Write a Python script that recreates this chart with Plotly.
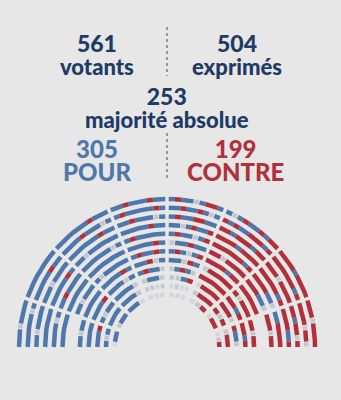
import math
import plotly.graph_objects as go

# ---------------- data ----------------
VOTANTS = 561
EXPRIMES = 504
MAJORITE = 253
POUR = 305
CONTRE = 199
LABEL_VOTANTS = "votants"
LABEL_EXPRIMES = "exprimés"
LABEL_MAJORITE = "majorité absolue"
LABEL_POUR = "POUR"
LABEL_CONTRE = "CONTRE"

# vote of every seat, row by row (outer row first), each row split in the
# 8 blocks of the hemicycle from left to right.
# P = pour, C = contre, A = abstention, N = non-votant
VOTE_ROWS = [
    ["PPPAPPPP", "PPPPPPPPP", "PPPPPPPCPPP", "PPCPPPCPP", "PCPPAPCCP", "PAPCPPCPCC", "CCCCPCCCC", "CCCACCCC"],
    ["PPPPPPAP", "PPPPPCPP", "PPPPCPPPAP", "PCPPPPPCP", "PPCPPCPAP", "CPCPPCCCPC", "CCCCCCPC", "CCCCACCA"],
    ["PPAPPPP", "PPPAPPPP", "PPPPPPCPP", "PPCPPPAP", "PCPPCCPP", "CCPCCCPCC", "CCCACCCC", "CCPCCAC"],
    ["PPPPPPP", "PPPPPCP", "PPAPPPPPP", "PPPPPCPP", "PPAPCPPC", "CCCCPCCCC", "CCCCCPC", "CCCCPPC"],
    ["PPPPAP", "PPCPPPP", "PPPPPPAP", "PCPPPPP", "PCPPAPC", "CCCCCCPC", "CCCCPPA", "PPCCCC"],
    ["PPPPPP", "PPPPPP", "PPPPPPP", "PPPPCP", "APPCPP", "CCACCCC", "CCCPPA", "CCCACC"],
    ["", "PPAPPP", "PAPPPPP", "PCPPCP", "PCPAPC", "CCCCPCC", "CCCCCC", ""],
    ["PPAPP", "PPPPP", "PPPPCP", "PPCAP", "PPACP", "ACCCCC", "CACCC", "CCACC"],
    ["PPPP", "PPPC", "PPPAP", "PCPPA", "APCPA", "CCCCC", "CCPC", "CCPC"],
    ["PPPC", "PAPP", "PPPPA", "APPA", "AAPC", "NCCCC", "CCCA", "CPPA"],
    ["PAP", "PPP", "PPPA", "AANA", "NANN", "ACCC", "CAC", "ACC"],
    ["NPP", "APP", "PPN", "NNN", "NNN", "NAC", "NCC", "NAC"],
]

# ---------------- style / layout ----------------
W, H = 341, 400
BG = "#e7e7e7"
NAVY = "#1f3a64"
BLUE = "#4e77ab"
RED = "#b1313a"
COLORS = {"P": BLUE, "C": RED, "A": "#c3c7cd", "N": "#d3d5d8"}
FONT = "Lato"

cx, cy = 167, 347
R_OUT, ROW_STEP, N_ROWS = 148, 8.7, 12
AISLES = [0, 19, 41, 67, 90, 113, 139, 161, 180]
AISLE_GAP = 3.5
GRAY_GAP = 1.6
LW = 4.5
PITCH = 5.9155

# seats per block, from the geometry
cells = {}
for k in range(N_ROWS):
    r = R_OUT - ROW_STEP * k
    for s in range(8):
        t0 = math.radians(AISLES[s])
        t1 = math.radians(AISLES[s + 1])
        if s > 0:
            t0 += AISLE_GAP / 2 / r
        if s < 7:
            t1 -= AISLE_GAP / 2 / r
        n = 0 if (s in (0, 7) and k == 6) else round((t1 - t0) * r / PITCH)
        cells[(k, s)] = [r, t0, t1, n]
if sum(v[3] for v in cells.values()) > 577:
    cells[(0, 2)][3] -= 1

segs = {c: ([], []) for c in COLORS}


def arc(code, r, a_start, a_end):
    xs, ys = segs[code]
    for j in range(8):
        a = a_start + (a_end - a_start) * j / 7
        xs.append(cx + r * math.cos(a))
        ys.append(cy - r * math.sin(a))
    xs.append(None)
    ys.append(None)


for k, row in enumerate(VOTE_ROWS):
    for b, block in enumerate(row):
        s = 7 - b
        r, t0, t1, n = cells[(k, s)]
        if len(block) != n:
            raise ValueError(f"row {k} block {b}: {len(block)} != {n}")
        if n == 0:
            continue
        step = (t1 - t0) / n
        i = 0
        while i < n:
            code = block[i]
            if code in "AN":
                g = GRAY_GAP / 2 / r
                arc(code, r, t1 - i * step - g, t1 - (i + 1) * step + g)
                i += 1
                continue
            j = i
            while j < n and block[j] == code:
                j += 1
            arc(code, r, t1 - i * step, t1 - j * step)
            i = j

fig = go.Figure()
for code in ["N", "A", "P", "C"]:
    xs, ys = segs[code]
    fig.add_trace(go.Scatter(x=xs, y=ys, mode="lines", line=dict(color=COLORS[code], width=LW),
                             hoverinfo="skip", connectgaps=False))


def txt(x, y, num, label, color, nsize, lsize):
    t = (f"<span style='font-size:{nsize}px'>{num}</span><br>"
         f"<span style='font-size:{lsize}px'>{label}</span>")
    fig.add_annotation(x=x, y=y, xref="x", yref="y", text=t, showarrow=False,
                       xanchor="center", yanchor="middle", align="center",
                       font=dict(family=FONT, size=17.5, color=color, weight=900))


txt(97, 54, VOTANTS, LABEL_VOTANTS, NAVY, 23, 22)
txt(237, 54, EXPRIMES, LABEL_EXPRIMES, NAVY, 23, 22)
txt(167, 107, MAJORITE, LABEL_MAJORITE, NAVY, 23, 22)
txt(97, 160, POUR, LABEL_POUR, BLUE, 24, 24)
txt(235, 160, CONTRE, LABEL_CONTRE, RED, 24, 24)

for y0, y1 in [(27, 76), (133, 181)]:
    fig.add_shape(type="line", x0=167, x1=167, y0=y0, y1=y1, xref="x", yref="y",
                  line=dict(color="#7d7f85", width=1.5, dash="dot"))

fig.update_layout(width=W, height=H, margin=dict(l=0, r=0, t=0, b=0), paper_bgcolor=BG, plot_bgcolor=BG,
                  showlegend=False,
                  xaxis=dict(range=[0, W], visible=False, fixedrange=True),
                  yaxis=dict(range=[H, 0], visible=False, fixedrange=True))
fig.write_html("out.html", config={"displayModeBar": False})
